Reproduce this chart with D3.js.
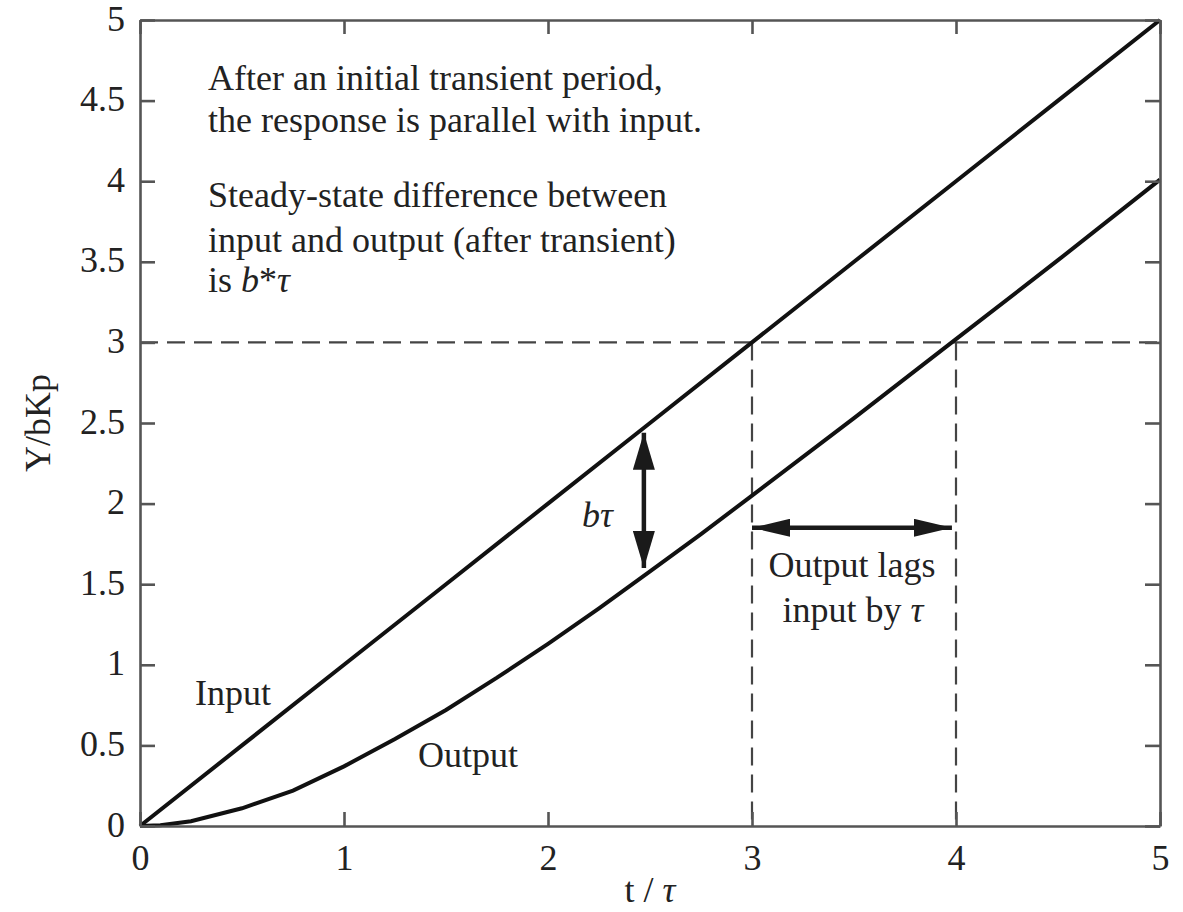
<!DOCTYPE html>
<html>
<head>
<meta charset="utf-8">
<script src="https://cdn.jsdelivr.net/npm/d3@7"></script>
<style>
  body { margin: 0; background: #fff; }
  text { font-family: "Liberation Serif", "DejaVu Serif", serif; fill: #222; }
</style>
</head>
<body>
<svg id="drawing_region"></svg>
<script>
// values
const t_ticks = [0, 1, 2, 3, 4, 5];
const y_ticks = [0, 0.5, 1, 1.5, 2, 2.5, 3, 3.5, 4, 4.5, 5];

const input_t = [0, 0.5, 1, 1.5, 2, 2.5, 3, 3.5, 4, 4.5, 5];
const input_y = [0, 0.5, 1, 1.5, 2, 2.5, 3, 3.5, 4, 4.5, 5];

const output_t = [0, 0.1, 0.25, 0.5, 0.75, 1, 1.25, 1.5, 1.75, 2, 2.25, 2.5, 2.75, 3, 3.5, 4, 4.5, 5];
const output_y = [0, 0.005, 0.03, 0.11, 0.22, 0.37, 0.54, 0.72, 0.92, 1.13, 1.35, 1.58, 1.81, 2.05, 2.53, 3.02, 3.51, 4.01];

const guide_level = 3;          // horizontal dashed line
const guide_t = [3, 4];         // vertical dashed lines
const vert_arrow = {t: 2.47, y0: 2.44, y1: 1.60};
const horiz_arrow = {y: 1.85, t0: 3.0, t1: 3.98};

const config = {
    width: 1183,
    height: 912,
    margin: {top: 20, right: 23, bottom: 86, left: 140}
};

const svg = d3.select('#drawing_region')
    .attr('width', config.width)
    .attr('height', config.height);

const inner_width = config.width - config.margin.left - config.margin.right;
const inner_height = config.height - config.margin.top - config.margin.bottom;

const chart = svg.append('g')
    .attr('transform', `translate(${config.margin.left}, ${config.margin.top})`);

const xscale = d3.scaleLinear().domain([0, 5]).range([0, inner_width]);
const yscale = d3.scaleLinear().domain([0, 5]).range([inner_height, 0]);

// arrow heads
const defs = svg.append('defs');
defs.append('marker')
    .attr('id', 'head_h')
    .attr('markerUnits', 'userSpaceOnUse')
    .attr('viewBox', '0 0 38 18')
    .attr('markerWidth', 38).attr('markerHeight', 18)
    .attr('refX', 38).attr('refY', 9)
    .attr('orient', 'auto-start-reverse')
    .append('path').attr('d', 'M0,0 L38,9 L0,18 Z').attr('fill', '#1a1a1a');
defs.append('marker')
    .attr('id', 'head_v')
    .attr('markerUnits', 'userSpaceOnUse')
    .attr('viewBox', '0 0 37 22')
    .attr('markerWidth', 37).attr('markerHeight', 22)
    .attr('refX', 37).attr('refY', 11)
    .attr('orient', 'auto-start-reverse')
    .append('path').attr('d', 'M0,0 L37,11 L0,22 Z').attr('fill', '#1a1a1a');

// dashed guides
chart.append('line')
    .attr('x1', xscale(0)).attr('x2', xscale(5))
    .attr('y1', yscale(guide_level)).attr('y2', yscale(guide_level))
    .attr('stroke', '#444').attr('stroke-width', 2.2)
    .attr('stroke-dasharray', '18,9');

chart.selectAll('.vguide')
    .data(guide_t)
    .enter()
    .append('line')
    .attr('class', 'vguide')
    .attr('x1', d => xscale(d)).attr('x2', d => xscale(d))
    .attr('y1', yscale(guide_level)).attr('y2', yscale(0))
    .attr('stroke', '#444').attr('stroke-width', 2.2)
    .attr('stroke-dasharray', '18,9');

// curves
const line = d3.line()
    .x(d => xscale(d[0]))
    .y(d => yscale(d[1]));

chart.append('path')
    .datum(input_t.map((t, i) => [t, input_y[i]]))
    .attr('d', line)
    .attr('fill', 'none').attr('stroke', '#111').attr('stroke-width', 4);

chart.append('path')
    .datum(output_t.map((t, i) => [t, output_y[i]]))
    .attr('d', line)
    .attr('fill', 'none').attr('stroke', '#111').attr('stroke-width', 4);

// arrows
chart.append('line')
    .attr('x1', xscale(vert_arrow.t)).attr('x2', xscale(vert_arrow.t))
    .attr('y1', yscale(vert_arrow.y0)).attr('y2', yscale(vert_arrow.y1))
    .attr('stroke', '#1a1a1a').attr('stroke-width', 4.5)
    .attr('marker-start', 'url(#head_v)')
    .attr('marker-end', 'url(#head_v)');

chart.append('line')
    .attr('x1', xscale(horiz_arrow.t0)).attr('x2', xscale(horiz_arrow.t1))
    .attr('y1', yscale(horiz_arrow.y)).attr('y2', yscale(horiz_arrow.y))
    .attr('stroke', '#1a1a1a').attr('stroke-width', 4.5)
    .attr('marker-start', 'url(#head_h)')
    .attr('marker-end', 'url(#head_h)');

// axes: ticks pointing inwards on all four sides
const frame_color = '#555';
const axes = [
    {ax: d3.axisBottom(xscale).tickValues(t_ticks).tickSize(-14), pos: `translate(0, ${inner_height})`, labels: true},
    {ax: d3.axisTop(xscale).tickValues(t_ticks).tickSize(-14), pos: 'translate(0, 0)', labels: false},
    {ax: d3.axisLeft(yscale).tickValues(y_ticks).tickSize(-15), pos: 'translate(0, 0)', labels: true},
    {ax: d3.axisRight(yscale).tickValues(y_ticks).tickSize(-15), pos: `translate(${inner_width}, 0)`, labels: false}
];
axes.forEach((a, i) => {
    const g = chart.append('g').attr('transform', a.pos)
        .call(a.ax.tickSizeOuter(0).tickFormat(d => String(d)));
    g.select('.domain').attr('stroke', frame_color).attr('stroke-width', 2.6);
    g.selectAll('.tick line').attr('stroke', frame_color).attr('stroke-width', 2.6);
    g.selectAll('.tick text')
        .attr('font-family', '"Liberation Serif", serif')
        .attr('font-size', 36)
        .attr('fill', '#222');
    if (!a.labels) g.selectAll('.tick text').remove();
    if (i === 0) g.selectAll('.tick text').attr('y', 12).attr('dy', '0.9em');
    if (i === 2) g.selectAll('.tick text').attr('x', -15).attr('dy', '0.28em');
});

// axis titles
chart.append('text')
    .attr('x', inner_width / 2)
    .attr('y', inner_height + 76)
    .attr('text-anchor', 'middle')
    .attr('font-size', 36)
    .html('t / <tspan font-style="italic">τ</tspan>');

chart.append('text')
    .attr('transform', `translate(${50 - config.margin.left}, ${inner_height / 2 + 0}) rotate(-90)`)
    .attr('text-anchor', 'middle')
    .attr('font-size', 36)
    .text('Y/bKp');

// annotations
const notes = [
    {x: 68, y: 70, txt: 'After an initial transient period,'},
    {x: 68, y: 112, txt: 'the response is parallel with input.'},
    {x: 68, y: 187, txt: 'Steady-state difference between'},
    {x: 68, y: 232, txt: 'input and output (after transient)'},
    {x: 68, y: 272, txt: 'is <tspan font-style="italic">b</tspan>*<tspan font-style="italic">τ</tspan>'},
    {x: 55, y: 685, txt: 'Input'},
    {x: 278, y: 747, txt: 'Output'},
    {x: 442, y: 507, txt: '<tspan font-style="italic">bτ</tspan>'}
];
chart.selectAll('.note')
    .data(notes)
    .enter()
    .append('text')
    .attr('class', 'note')
    .attr('x', d => d.x)
    .attr('y', d => d.y)
    .attr('font-size', 36)
    .html(d => d.txt);

chart.append('text')
    .attr('x', 712).attr('y', 557)
    .attr('text-anchor', 'middle')
    .attr('font-size', 36)
    .text('Output lags');
chart.append('text')
    .attr('x', 713).attr('y', 602)
    .attr('text-anchor', 'middle')
    .attr('font-size', 36)
    .html('input by  <tspan font-style="italic">τ</tspan>');
</script>
</body>
</html>
